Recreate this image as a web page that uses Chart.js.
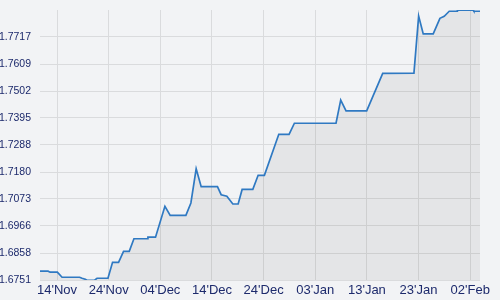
<!DOCTYPE html>
<html>
<head>
<meta charset="utf-8">
<script src="https://cdn.jsdelivr.net/npm/chart.js@4"></script>
<style>
  html, body { margin: 0; padding: 0; background: #f2f3f5; }
  #wrap { width: 500px; height: 300px; }
</style>
</head>
<body>
<div id="wrap"><canvas id="rateChart" width="500" height="300"></canvas></div>
<script>
// days counted from 14 Nov
const days = [-3.3, -1.74, -1.35, 0.06, 0.97, 4.37, 4.84, 5.47, 5.80, 7.27,
  7.74, 9.86, 10.75, 11.91, 12.88, 13.98, 14.89, 17.47, 17.60, 19.07,
  20.89, 21.91, 24.95, 25.92, 26.94, 27.91, 31.06, 31.78, 32.88, 34.04,
  35.07, 35.84, 37.91, 38.94, 40.15, 42.94, 44.93, 45.96, 54.02, 54.93,
  55.96, 59.96, 63.06, 69.11, 70.02, 70.91, 72.84, 74.14, 74.97, 75.94,
  77.49, 77.52, 80.58, 80.72, 82.2];
const rates = [1.6786, 1.6786, 1.6782, 1.6782, 1.6762, 1.6762, 1.6758, 1.6754, 1.6750, 1.6750,
  1.6758, 1.6758, 1.6821, 1.6821, 1.6865, 1.6865, 1.6915, 1.6915, 1.6921, 1.6921,
  1.7044, 1.7008, 1.7008, 1.7057, 1.7193, 1.7122, 1.7122, 1.7090, 1.7084, 1.7053,
  1.7053, 1.7111, 1.7111, 1.7167, 1.7167, 1.7330, 1.7330, 1.7374, 1.7374, 1.7466,
  1.7423, 1.7423, 1.7572, 1.7573, 1.7800, 1.7729, 1.7729, 1.7791, 1.7799, 1.7819,
  1.7819, 1.7823, 1.7823, 1.7819, 1.7819];

const xTickDays = [0, 10, 20, 30, 40, 50, 60, 70, 80];
const xTickLabels = ["14'Nov", "24'Nov", "04'Dec", "14'Dec", "24'Dec", "03'Jan", "13'Jan", "23'Jan", "02'Feb"];
const yTicks = [1.6751, 1.6858, 1.6966, 1.7073, 1.7180, 1.7288, 1.7395, 1.7502, 1.7609, 1.7717];
const yMin = 1.6751;
const yMax = 1.7824;
const xMin = -3.3;
const xMax = 81.9;

const points = days.map((d, i) => ({ x: d, y: rates[i] }));

const textColor = '#1d2a6c';
const gridColor = '#dadbdd';

new Chart(document.getElementById('rateChart').getContext('2d'), {
    type: 'line',
    data: {
        datasets: [{
            data: points,
            borderColor: '#2f79c2',
            borderWidth: 1.7,
            backgroundColor: 'rgba(0, 0, 0, 0.055)',
            fill: 'start',
            pointRadius: 0,
            tension: 0
        }]
    },
    options: {
        responsive: false,
        animation: false,
        layout: { padding: { top: 10, right: 20, left: 0, bottom: 0 } },
        plugins: {
            legend: { display: false },
            tooltip: { enabled: false }
        },
        scales: {
            x: {
                type: 'linear',
                min: xMin,
                max: xMax,
                afterBuildTicks: function(scale) {
                    scale.ticks = xTickDays.map(v => ({ value: v }));
                },
                afterFit: function(scale) {
                    scale.height = 20;
                    scale.paddingLeft = 0;
                    scale.paddingRight = 0;
                },
                ticks: {
                    color: textColor,
                    padding: 3,
                    maxRotation: 0,
                    autoSkip: false,
                    font: { family: 'Liberation Sans, Arial, sans-serif', size: 13 },
                    callback: function(value) {
                        const i = xTickDays.indexOf(value);
                        return i >= 0 ? xTickLabels[i] : '';
                    }
                },
                grid: { color: gridColor, lineWidth: 1, drawTicks: false },
                border: { display: false }
            },
            y: {
                min: yMin,
                max: yMax,
                afterBuildTicks: function(scale) {
                    scale.ticks = yTicks.map(v => ({ value: v }));
                },
                afterFit: function(scale) {
                    scale.width = 40;
                    scale.paddingTop = 0;
                    scale.paddingBottom = 0;
                },
                ticks: {
                    color: textColor,
                    padding: 9,
                    font: { family: 'Liberation Sans, Arial, sans-serif', size: 10.5 },
                    callback: function(value) { return value.toFixed(4); }
                },
                grid: { color: gridColor, lineWidth: 1, drawTicks: false },
                border: { display: false }
            }
        }
    }
});
</script>
</body>
</html>
